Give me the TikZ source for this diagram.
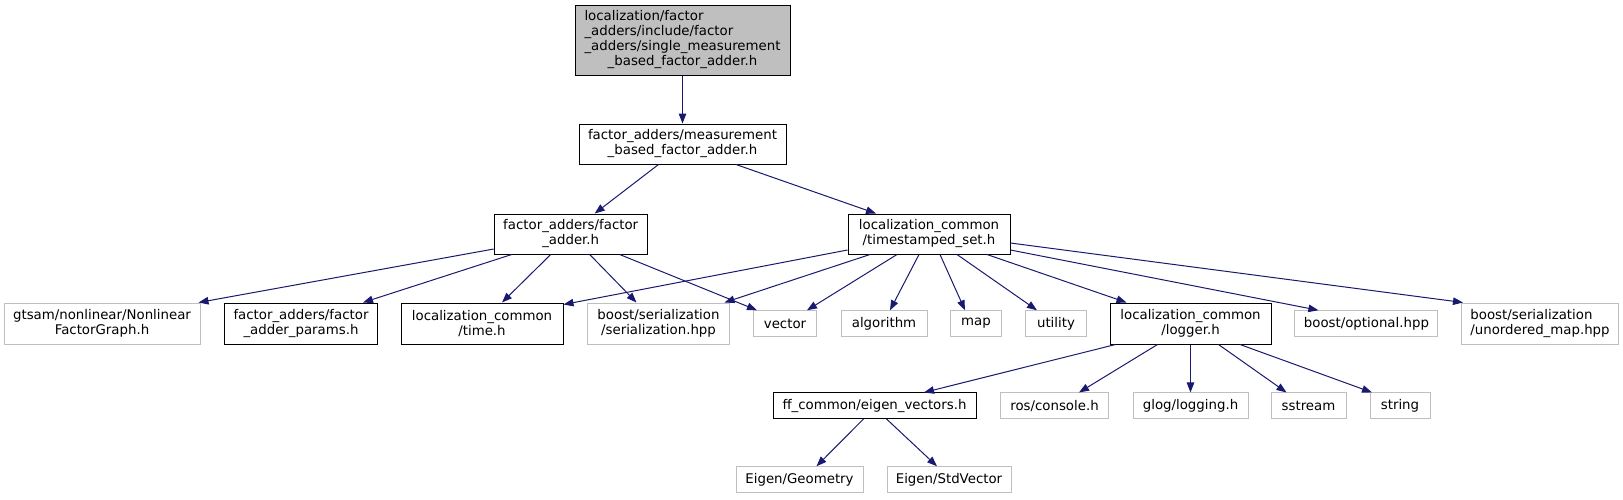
\documentclass[tikz,border=0pt]{standalone}
\usepackage{fontspec}
\setmainfont{DejaVu Sans}
\usetikzlibrary{arrows.meta}
\definecolor{edgec}{HTML}{191970}
\definecolor{greyb}{HTML}{BFBFBF}
\begin{document}
\begin{tikzpicture}[x=1pt,y=-1pt,
  box/.style={draw=black, line width=1pt, inner sep=0pt, font=\fontsize{13.33}{15}\selectfont, align=center, minimum height=25.5pt},
  ext/.style={box, draw=greyb},
  tall/.style={minimum height=41pt},
  e/.style={draw=edgec, line width=1pt, -{Triangle[length=10pt,width=7.5pt]}}]
\useasboundingbox (0,0) rectangle (1623,499);

\node[box, fill=greyb, minimum width=215pt, minimum height=70pt] (top) at (682.5,40)
  {\begin{tabular}{@{}l@{}}localization/factor\\ \_adders/include/factor\\ \_adders/single\_measurement\\ \multicolumn{1}{@{}c@{}}{\_based\_factor\_adder.h}\end{tabular}};
\node[box, minimum width=207pt, minimum height=40pt] (ms) at (682.5,144) {factor\_adders/measurement\\\_based\_factor\_adder.h};
\node[box, minimum width=153pt, minimum height=40pt] (fa) at (570.7,234) {factor\_adders/factor\\\_adder.h};
\node[box, minimum width=162pt, minimum height=40pt] (ts) at (929,234) {localization\_common\\/timestamped\_set.h};

\node[ext, tall, minimum width=196pt] (gt) at (102,323.5) {gtsam/nonlinear/Nonlinear\\FactorGraph.h};
\node[box, tall, minimum width=153pt] (pa) at (301,323.5) {factor\_adders/factor\\\_adder\_params.h};
\node[box, tall, minimum width=162pt] (tm) at (482,323.5) {localization\_common\\/time.h};
\node[ext, tall, minimum width=142pt] (bs) at (658.5,323.5) {boost/serialization\\/serialization.hpp};
\node[ext, minimum width=63pt] (ve) at (785,323.5) {vector};
\node[ext, minimum width=86pt] (al) at (884,323.5) {algorithm};
\node[ext, minimum width=51pt] (mp) at (976,323.5) {map};
\node[ext, minimum width=61pt] (ut) at (1056,323.5) {utility};
\node[box, tall, minimum width=161pt] (lg) at (1190.5,323.5) {localization\_common\\/logger.h};
\node[ext, minimum width=143pt] (op) at (1366.4,323.5) {boost/optional.hpp};
\node[ext, tall, minimum width=157pt, align=left] (un) at (1540,323.5) {boost/serialization\\/unordered\_map.hpp};

\node[box, minimum width=203pt] (ff) at (874.5,405.7) {ff\_common/eigen\_vectors.h};
\node[ext, minimum width=108pt] (ro) at (1054.5,405.7) {ros/console.h};
\node[ext, minimum width=115pt] (gl) at (1190.5,405.7) {glog/logging.h};
\node[ext, minimum width=75pt] (ss) at (1308.5,405.7) {sstream};
\node[ext, minimum width=60pt] (st) at (1400,405.7) {string};

\node[ext, minimum width=127pt] (eg) at (799.5,479.5) {Eigen/Geometry};
\node[ext, minimum width=124pt] (es) at (949,479.5) {Eigen/StdVector};

\draw[e] (top) -- (ms);
\draw[e] ([xshift=-24pt]ms.south) -- ([xshift=24pt]fa.north);
\draw[e] ([xshift=53.5pt]ms.south) -- ([xshift=-53pt]ts.north);

\draw[e] ([yshift=-15pt]fa.west) -- ([xshift=-2pt]gt.north east);
\draw[e] ([xshift=-59pt]fa.south) -- ([xshift=62pt]pa.north);
\draw[e] ([xshift=-20pt]fa.south) -- ([xshift=20pt]tm.north);
\draw[e] ([xshift=19pt]fa.south) -- ([xshift=-22pt]bs.north);
\draw[e] ([xshift=49pt]fa.south) -- ([xshift=-28pt]ve.north);

\draw[e] ([yshift=-16pt]ts.west) -- ([yshift=-2pt]tm.north east);
\draw[e] ([xshift=-59pt]ts.south) -- ([xshift=66pt]bs.north);
\draw[e] ([xshift=-32pt]ts.south) -- ([xshift=22pt]ve.north);
\draw[e] ([xshift=-10pt]ts.south) -- ([xshift=6pt]al.north);
\draw[e] ([xshift=11pt]ts.south) -- ([xshift=-11pt]mp.north);
\draw[e] ([xshift=28pt]ts.south) -- ([xshift=-19pt]ut.north);
\draw[e] ([xshift=58pt]ts.south) -- ([xshift=-64pt]lg.north);
\draw[e] ([yshift=-16pt]ts.east) -- ([xshift=-48pt]op.north);
\draw[e] ([yshift=-9pt]ts.east) -- ([xshift=2pt]un.north west);

\draw[e] ([xshift=-75pt]lg.south) -- ([xshift=49.5pt]ff.north);
\draw[e] ([xshift=-33pt]lg.south) -- ([xshift=24.5pt]ro.north);
\draw[e] (lg.south) -- (gl.north);
\draw[e] ([xshift=28pt]lg.south) -- ([xshift=-22pt]ss.north);
\draw[e] ([xshift=49.5pt]lg.south) -- ([xshift=-28pt]st.north);

\draw[e] ([xshift=-11pt]ff.south) -- ([xshift=17pt]eg.north);
\draw[e] ([xshift=12pt]ff.south) -- ([xshift=-12pt]es.north);
\end{tikzpicture}
\end{document}
